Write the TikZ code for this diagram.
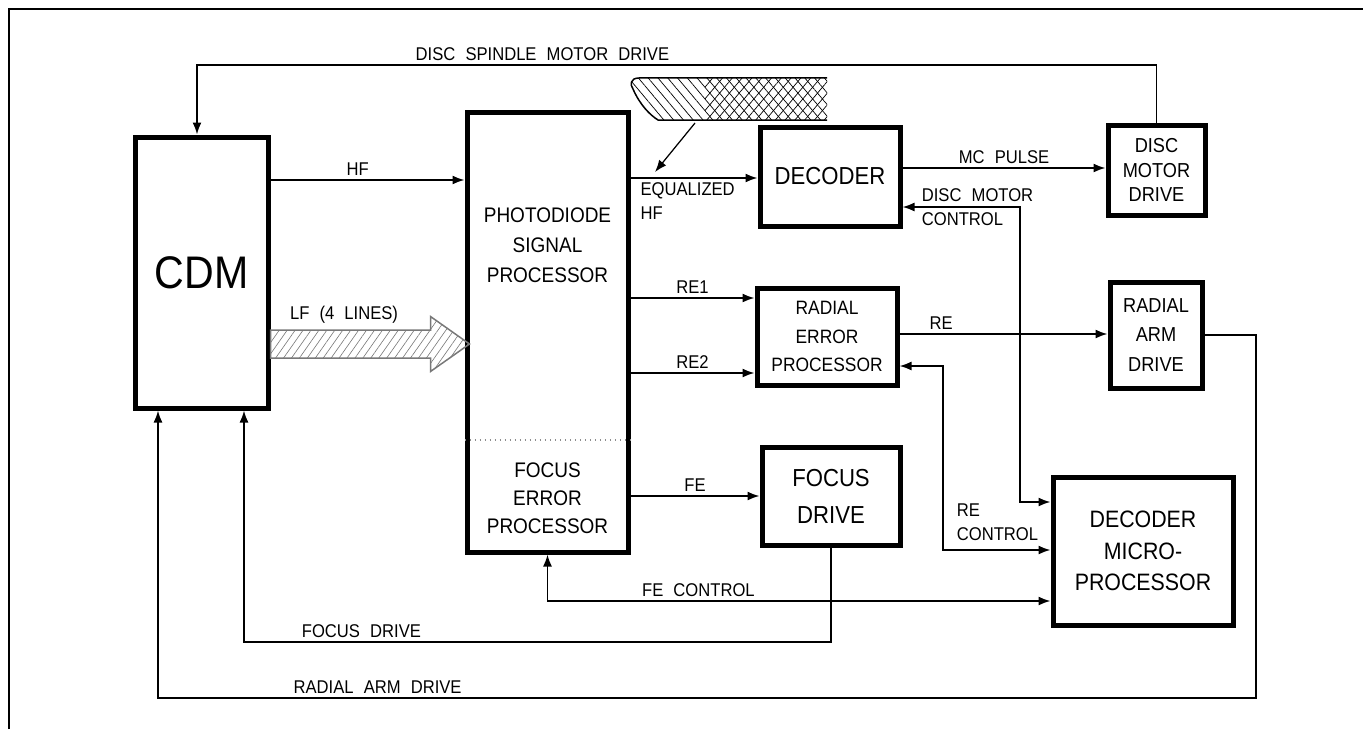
\documentclass[tikz,border=0pt]{standalone}
\usepackage{fontspec}
\setmainfont{Liberation Sans}[FakeStretch=0.9]
\usepackage{tikz}
\usetikzlibrary{arrows.meta,patterns.meta}
\definecolor{hatch}{RGB}{120,120,120}
\newcommand{\lblsize}{\fontsize{10.5}{14}\selectfont\spaceskip=0.55em}
\tikzset{
  blk/.style={rectangle, draw, line width=1mm, align=center, inner sep=2pt},
  lbl/.style={font=\lblsize, inner sep=2pt},
  wire/.style={line width=0.35mm},
  ar/.style={wire, -{Latex[length=2.4mm,width=1.8mm]}},
  arb/.style={wire, {Latex[length=2.4mm,width=1.8mm]}-{Latex[length=2.4mm,width=1.8mm]}},
  lfarr/.style={draw=hatch, line width=0.3mm, pattern color=hatch,
                pattern={Lines[angle=55,distance=1.3mm,line width=0.35pt]}},
}

\begin{document}
\begin{tikzpicture}
  \useasboundingbox (0,0) rectangle (27.26,-14.58);
  % frame
  \draw[line width=0.4mm] (0.18,-14.58) -- (0.18,-0.18) -- (27.26,-0.18);

  % blocks
  \node[blk, minimum width=2.66cm, minimum height=5.42cm,
        font=\fontsize{26}{28}\selectfont] (cdm) at (4.03,-5.45) {CDM};
  \node[blk, minimum width=3.22cm, minimum height=8.78cm] (pds) at (10.95,-6.65) {};
  \node[font=\fontsize{12}{17}\selectfont, align=center] (pdsig) at (10.95,-4.9)
    {PHOTODIODE\\SIGNAL\\PROCESSOR};
  \node[font=\fontsize{12}{16}\selectfont, align=center] (pdfoc) at (10.95,-9.96)
    {FOCUS\\ERROR\\PROCESSOR};
  \draw[dotted, line width=0.3mm, black!45] (pds.west |- 0,-8.8) -- (pds.east |- 0,-8.8);
  \node[blk, minimum width=2.8cm, minimum height=1.98cm,
        font=\fontsize{14}{17}\selectfont] (dec) at (16.6,-3.53) {DECODER};
  \node[blk, minimum width=1.94cm, minimum height=1.8cm,
        font=\fontsize{11.5}{14}\selectfont] (dmd) at (23.13,-3.4) {DISC\\MOTOR\\DRIVE};
  \node[blk, minimum width=2.8cm, minimum height=1.94cm,
        font=\fontsize{11}{16}\selectfont] (rep) at (16.54,-6.73) {RADIAL\\ERROR\\PROCESSOR};
  \node[blk, minimum width=1.84cm, minimum height=2.12cm,
        font=\fontsize{11.5}{17}\selectfont] (rad) at (23.12,-6.7) {RADIAL\\ARM\\DRIVE};
  \node[blk, minimum width=2.76cm, minimum height=1.96cm,
        font=\fontsize{14}{21}\selectfont] (fd) at (16.62,-9.92) {FOCUS\\DRIVE};
  \node[blk, minimum width=3.6cm, minimum height=2.96cm,
        font=\fontsize{13.5}{18}\selectfont] (dmp) at (22.86,-11.02) {DECODER\\MICRO-\\PROCESSOR};

  % equalizer ribbon
  \fill[pattern={Lines[angle=-50,distance=1.5mm,line width=0.4pt]}]
    (16.54,-1.56) -- (12.78,-1.56) .. controls (12.6,-1.56) and (12.6,-1.7) .. (12.66,-1.78)
    .. controls (12.8,-2.1) and (13.0,-2.3) .. (13.16,-2.4) -- (16.54,-2.4) -- cycle;
  \fill[pattern={Lines[angle=50,distance=1.5mm,line width=0.4pt]}]
    (14.1,-1.56) rectangle (16.54,-2.4);
  \draw[line width=0.3mm] (16.54,-1.56) -- (12.78,-1.56) .. controls (12.6,-1.56) and (12.6,-1.7) .. (12.66,-1.78)
    .. controls (12.8,-2.1) and (13.0,-2.3) .. (13.16,-2.4) -- (16.54,-2.4);
  \coordinate (rib) at (13.9,-2.46);
  \draw[ar, line width=0.25mm] (rib) -- ++(-0.8,-0.98);

  % LF bundle
  \coordinate (lfa) at (cdm.east |- 0,-6.88);
  \draw[lfarr] (lfa) ++(0,0.28) -- ++(3.2,0) -- ++(0,0.27) -- ++(0.78,-0.55)
    -- ++(-0.78,-0.55) -- ++(0,0.27) -- ++(-3.2,0) -- cycle;
  \node[lbl] (lflbl) at (6.88,-6.3) {LF (4 LINES)};

  % signal paths
  \draw[ar] (cdm.east |- 0,-3.6) -- node[lbl, above, pos=0.45] (hflbl) {HF} (pds.west |- 0,-3.6);
  \draw[ar] (pds.east |- 0,-3.56) -- node[lbl, below, align=left, pos=0.45] (eqlbl) {EQUALIZED\\HF}
    (dec.west |- 0,-3.56);
  \draw[ar] (dec.east |- 0,-3.36) -- node[lbl, above] (mclbl) {MC PULSE} (dmd.west |- 0,-3.36);
  \draw[ar] (pds.east |- 0,-5.96) -- node[lbl, above] (re1lbl) {RE1} (rep.west |- 0,-5.96);
  \draw[ar] (pds.east |- 0,-7.46) -- node[lbl, above] (re2lbl) {RE2} (rep.west |- 0,-7.46);
  \draw[ar] (rep.east |- 0,-6.68) -- node[lbl, above, pos=0.2] (relbl) {RE} (rad.west |- 0,-6.68);
  \draw[ar] (pds.east |- fd.west) -- node[lbl, above] (felbl) {FE} (fd.west);

  % control lines
  \coordinate (dmc) at (20.4,-4.14);
  \draw[arb] (dec.east |- dmc) -- (dmc) |- (dmp.west |- 0,-10.04);
  \node[lbl, anchor=west, align=left] (dmclbl) at (18.36,-4.14) {DISC MOTOR\\CONTROL};
  \coordinate (rec) at (18.86,-7.32);
  \draw[arb] (rep.east |- rec) -- (rec) |- (dmp.west |- 0,-11.0);
  \node[lbl, anchor=south west, align=left] (reclbl) at (19.06,-10.9) {RE\\CONTROL};
  \draw[arb] (pds.south) |- node[lbl, above, pos=0.65] (fclbl) {FE CONTROL} (dmp.west |- 0,-12.02);

  % drives back to CDM
  \coordinate (spl) at (3.94,-1.3);
  \draw[ar] (dmd.north) |- node[lbl, above, pos=0.82] (spllbl) {DISC SPINDLE MOTOR DRIVE} (spl)
    -- (spl |- cdm.north);
  \coordinate (fdc) at (4.88,-12.84);
  \draw[ar] (fd.south) |- node[lbl, above, pos=0.9] (fdlbl) {FOCUS DRIVE} (fdc) -- (fdc |- cdm.south);
  \coordinate (rar) at (25.12,-13.96);
  \coordinate (ral) at (3.16,-13.96);
  \draw[ar] (rad.east) -| (rar) -- node[lbl, above, pos=0.8] (ralbl) {RADIAL ARM DRIVE} (ral)
    -- (ral |- cdm.south);
\end{tikzpicture}
\end{document}
